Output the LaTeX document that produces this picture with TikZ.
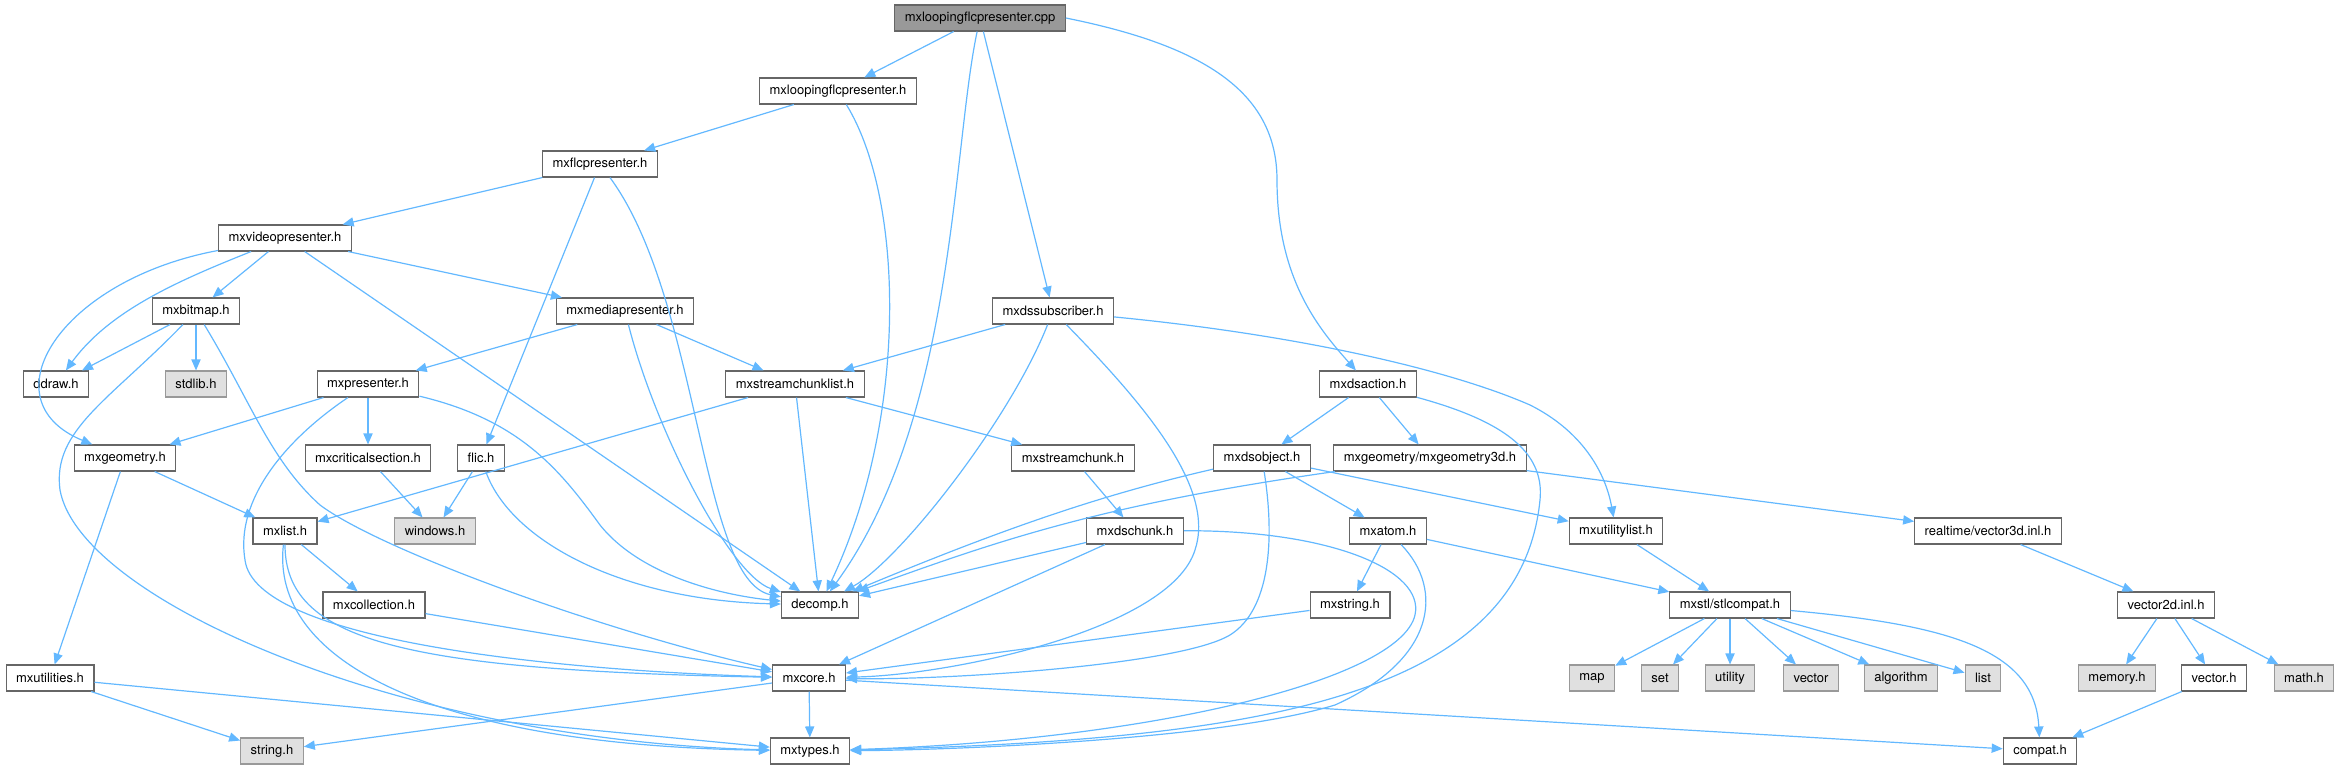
\documentclass[tikz,border=0pt]{standalone}
\usepackage{fontspec}
\setmainfont{TeX Gyre Heros}
\usetikzlibrary{arrows.meta}
\usepackage{xcolor}
\definecolor{edgeblue}{HTML}{63B8FF}
\definecolor{boxgray}{HTML}{666666}
\definecolor{sysgray}{HTML}{999999}
\definecolor{sysfill}{HTML}{E0E0E0}
\definecolor{rootfill}{HTML}{999999}

\begin{document}
\begin{tikzpicture}[x=0.5pt, y=-0.5pt,
    hdr/.style={draw=boxgray, rectangle, fill=white, line width=0.55pt, minimum height=13pt, inner xsep=5pt, inner ysep=0pt, font=\fontsize{6.5}{7.8}\selectfont},
    sysh/.style={hdr, draw=sysgray, fill=sysfill},
    rootf/.style={hdr, fill=rootfill},
    dep/.style={draw=edgeblue, line width=0.6pt, -{Triangle[length=5.5pt, width=4.6pt]}}]
            \useasboundingbox (0,0) rectangle (2340,769);

            \node[rootf] (cpp) at (980,18) {mxloopingflcpresenter.cpp};
            \node[hdr] (looph) at (838,91) {mxloopingflcpresenter.h};
            \node[hdr] (flcpres) at (600,164) {mxflcpresenter.h};
            \node[hdr] (videopres) at (285,238) {mxvideopresenter.h};
            \node[hdr] (bitmap) at (196,311) {mxbitmap.h};
            \node[hdr] (mediapres) at (625,311) {mxmediapresenter.h};
            \node[hdr] (dssub) at (1053,311) {mxdssubscriber.h};
            \node[hdr] (ddraw) at (56,384) {ddraw.h};
            \node[sysh] (stdlib) at (196,384) {stdlib.h};
            \node[hdr] (presenter) at (368,384) {mxpresenter.h};
            \node[hdr] (chunklist) at (795,384) {mxstreamchunklist.h};
            \node[hdr] (dsaction) at (1368,384) {mxdsaction.h};
            \node[hdr] (geometry) at (125,458) {mxgeometry.h};
            \node[hdr] (critsect) at (368,458) {mxcriticalsection.h};
            \node[hdr] (flic) at (481,458) {flic.h};
            \node[hdr] (streamchunk) at (1073,458) {mxstreamchunk.h};
            \node[hdr] (dsobject) at (1262,458) {mxdsobject.h};
            \node[hdr] (geom3d) at (1430,458) {mxgeometry/mxgeometry3d.h};
            \node[hdr] (mxlist) at (285,531) {mxlist.h};
            \node[sysh] (windows) at (435,531) {windows.h};
            \node[hdr] (dschunk) at (1135,531) {mxdschunk.h};
            \node[hdr] (atom) at (1388,531) {mxatom.h};
            \node[hdr] (utillist) at (1616,531) {mxutilitylist.h};
            \node[hdr] (vec3d) at (1988,531) {realtime/vector3d.inl.h};
            \node[hdr] (collection) at (374,605) {mxcollection.h};
            \node[hdr] (decomp) at (820,605) {decomp.h};
            \node[hdr] (mxstring) at (1350,605) {mxstring.h};
            \node[hdr] (stlcompat) at (1730,605) {mxstl/stlcompat.h};
            \node[hdr] (vec2d) at (2166,605) {vector2d.inl.h};
            \node[hdr] (utilities) at (50,678) {mxutilities.h};
            \node[hdr] (core) at (809,678) {mxcore.h};
            \node[sysh] (map) at (1592,678) {map};
            \node[sysh] (set) at (1660,678) {set};
            \node[sysh] (utility) at (1730,678) {utility};
            \node[sysh] (vector) at (1811,678) {vector};
            \node[sysh] (algorithm) at (1901,678) {algorithm};
            \node[sysh] (stllist) at (1983,678) {list};
            \node[sysh] (memory) at (2117,678) {memory.h};
            \node[hdr] (vectorh) at (2214,678) {vector.h};
            \node[sysh] (math) at (2304,678) {math.h};
            \node[sysh] (stringh) at (272,751) {string.h};
            \node[hdr] (types) at (810,751) {mxtypes.h};
            \node[hdr] (compat) at (2040,751) {compat.h};

            \draw[dep] (cpp) -- (looph);
            \draw[dep] (cpp) .. controls (952,150) and (955,420) .. (decomp);
            \draw[dep] (cpp) -- (dssub);
            \draw[dep] (cpp.east) .. controls (1200,45) and (1277,90) .. (1277,180) .. controls (1277,280) and (1320,330) .. (dsaction);
            \draw[dep] (looph) -- (flcpres);
            \draw[dep] (looph) .. controls (905,200) and (908,420) .. (decomp);
            \draw[dep] (flcpres) -- (videopres);
            \draw[dep] (flcpres) -- (flic);
            \draw[dep] (flcpres) .. controls (700,300) and (700,580) .. (decomp);
            \draw[dep] (videopres) .. controls (60,280) and (-15,400) .. (geometry);
            \draw[dep] (videopres) .. controls (180,280) and (110,310) .. (ddraw);
            \draw[dep] (videopres) -- (bitmap);
            \draw[dep] (videopres) -- (decomp);
            \draw[dep] (videopres) -- (mediapres);
            \draw[dep] (bitmap) -- (ddraw);
            \draw[dep] (bitmap) -- (stdlib);
            \draw[dep] (bitmap) .. controls (110,400) and (52,430) .. (60,490) .. controls (80,600) and (400,740) .. (types);
            \draw[dep] (bitmap) .. controls (250,400) and (270,460) .. (320,505) .. controls (380,550) and (600,630) .. (core);
            \draw[dep] (mediapres) -- (presenter);
            \draw[dep] (mediapres) .. controls (655,430) and (730,575) .. (decomp);
            \draw[dep] (mediapres) -- (chunklist);
            \draw[dep] (presenter) -- (geometry);
            \draw[dep] (presenter) -- (critsect);
            \draw[dep] (presenter) .. controls (285,440) and (235,500) .. (245,560) .. controls (255,640) and (550,670) .. (core);
            \draw[dep] (presenter) .. controls (520,420) and (560,470) .. (600,525) .. controls (640,575) and (720,595) .. (decomp);
            \draw[dep] (critsect) -- (windows);
            \draw[dep] (flic) -- (windows);
            \draw[dep] (flic) .. controls (510,540) and (620,600) .. (decomp);
            \draw[dep] (geometry) -- (mxlist);
            \draw[dep] (geometry) -- (utilities);
            \draw[dep] (chunklist) -- (mxlist);
            \draw[dep] (chunklist) -- (decomp);
            \draw[dep] (chunklist) -- (streamchunk);
            \draw[dep] (mxlist) -- (collection);
            \draw[dep] (mxlist) .. controls (285,640) and (400,670) .. (core);
            \draw[dep] (mxlist) .. controls (270,660) and (430,745) .. (types);
            \draw[dep] (collection) -- (core);
            \draw[dep] (utilities) -- (stringh);
            \draw[dep] (utilities) -- (types);
            \draw[dep] (core) -- (stringh);
            \draw[dep] (core) -- (types);
            \draw[dep] (core) -- (compat);
            \draw[dep] (dssub) -- (chunklist);
            \draw[dep] (dssub) .. controls (1010,420) and (900,560) .. (decomp);
            \draw[dep] (dssub) .. controls (1150,410) and (1215,490) .. (1195,550) .. controls (1170,630) and (950,675) .. (core);
            \draw[dep] (dssub) .. controls (1300,335) and (1450,370) .. (1530,405) .. controls (1580,430) and (1605,470) .. (utillist);
            \draw[dep] (dsaction) -- (dsobject);
            \draw[dep] (dsaction) -- (geom3d);
            \draw[dep] (dsaction) .. controls (1500,420) and (1545,450) .. (1540,500) .. controls (1520,700) and (1250,740) .. (types);
            \draw[dep] (dsobject) .. controls (1100,495) and (1000,530) .. (decomp);
            \draw[dep] (dsobject) .. controls (1275,540) and (1270,610) .. (1230,635) .. controls (1180,665) and (950,680) .. (core);
            \draw[dep] (dsobject) -- (atom);
            \draw[dep] (dsobject) -- (utillist);
            \draw[dep] (geom3d) .. controls (1100,505) and (1000,540) .. (decomp);
            \draw[dep] (geom3d) -- (vec3d);
            \draw[dep] (streamchunk) -- (dschunk);
            \draw[dep] (dschunk) -- (decomp);
            \draw[dep] (dschunk) -- (core);
            \draw[dep] (dschunk) .. controls (1330,530) and (1425,570) .. (1415,615) .. controls (1400,680) and (1150,740) .. (types);
            \draw[dep] (atom) -- (mxstring);
            \draw[dep] (atom) .. controls (1445,590) and (1435,660) .. (1335,705) .. controls (1220,740) and (950,750) .. (types);
            \draw[dep] (atom) -- (stlcompat);
            \draw[dep] (mxstring) -- (core);
            \draw[dep] (utillist) -- (stlcompat);
            \draw[dep] (vec3d) -- (vec2d);
            \draw[dep] (stlcompat) -- (map);
            \draw[dep] (stlcompat) -- (set);
            \draw[dep] (stlcompat) -- (utility);
            \draw[dep] (stlcompat) -- (vector);
            \draw[dep] (stlcompat) -- (algorithm);
            \draw[dep] (stlcompat) -- (stllist);
            \draw[dep] (stlcompat) .. controls (1950,625) and (2035,650) .. (compat);
            \draw[dep] (vec2d) -- (memory);
            \draw[dep] (vec2d) -- (vectorh);
            \draw[dep] (vec2d) -- (math);
            \draw[dep] (vectorh) -- (compat);
        \end{tikzpicture}
\end{document}
